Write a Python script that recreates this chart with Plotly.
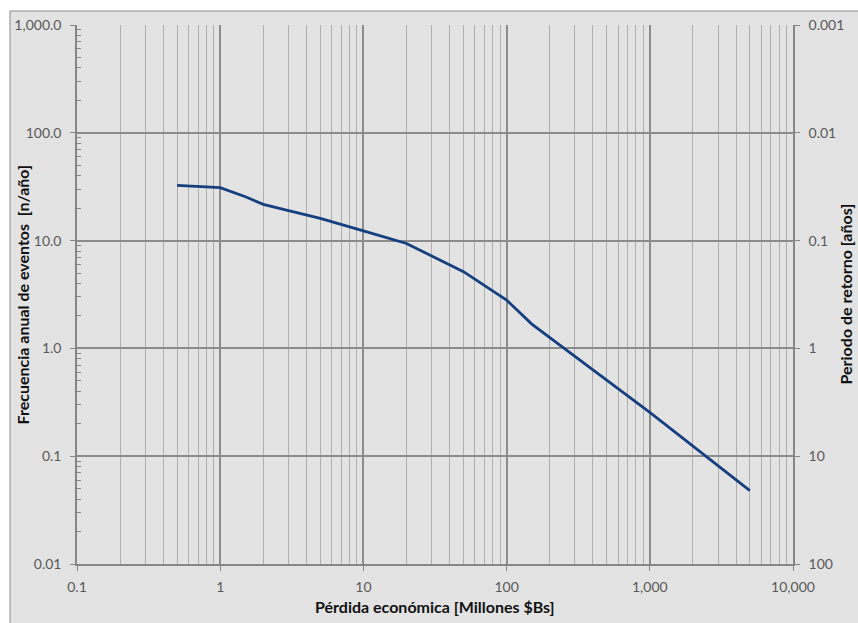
import plotly.graph_objects as go

# Data
loss = [0.5, 1, 1.5, 2, 3, 5, 10, 20, 30, 50, 100, 150, 1000, 5000]
freq = [32.6, 31.0, 25.5, 21.7, 19.0, 16.1, 12.3, 9.4, 7.2, 5.15, 2.81, 1.68, 0.255, 0.048]

x_tick_vals = [0.1, 1, 10, 100, 1000, 10000]
x_tick_text = ["0.1", "1", "10", "100", "1,000", "10,000"]
y_tick_vals = [1000, 100, 10, 1, 0.1, 0.01]
y_tick_text = ["1,000.0", "100.0", "10.0", "1.0", "0.1", "0.01"]
rp_tick_text = ["0.001", "0.01", "0.1", "1", "10", "100"]

x_title = "Pérdida económica [Millones $Bs]"
y_title = "Frecuencia anual de eventos  [n/año]"
y2_title = "Periodo de retorno [años]"

FONT = "Lato, Carlito, 'Open Sans', sans-serif"
TICK_COLOR = "#595959"
AXIS_COLOR = "#868686"
MAJOR_GRID = "#8c8c8c"
MINOR_GRID = "#afafaf"
BG = "#e3e3e3"

minor_x = [m * 10 ** e for e in range(-1, 4) for m in range(2, 10)]
minor_y = [m * 10 ** e for e in range(-2, 3) for m in range(2, 10)]

W, H = 858, 623
PL, PR, PT, PB = 77, 793, 25, 564  # plot area in page pixels
L, T, R, B = PL, PT, W - PR, H - PB
pw = PR - PL
ph = PB - PT

def px_x(p):
    return (p - PL) / pw

def px_y(p):
    return (PB - p) / ph

fig = go.Figure()
fig.add_trace(go.Scatter(
    x=loss, y=freq, mode="lines",
    line=dict(color="#153f7f", width=2.8),
    showlegend=False, hoverinfo="x+y",
))
# companion trace so the right (return period) axis is drawn
fig.add_trace(go.Scatter(
    x=loss, y=freq, mode="lines", yaxis="y2",
    line=dict(color="rgba(0,0,0,0)", width=0),
    showlegend=False, hoverinfo="skip",
))

fig.update_layout(
    width=W, height=H,
    margin=dict(l=L, r=R, t=T, b=B, pad=0),
    paper_bgcolor="white",
    plot_bgcolor="rgba(0,0,0,0)",
    font=dict(family=FONT, size=14, color=TICK_COLOR),
    showlegend=False,
    xaxis=dict(
        type="log", range=[-1, 4], automargin=False,
        tickmode="array", tickvals=x_tick_vals, ticktext=x_tick_text,
        ticks="outside", ticklen=5, tickcolor=AXIS_COLOR, tickwidth=1,
        showline=True, linecolor=AXIS_COLOR, linewidth=1.5,
        showgrid=True, gridcolor=MAJOR_GRID, gridwidth=1.5,
        minor=dict(tickmode="array", tickvals=minor_x, showgrid=True,
                   gridcolor=MINOR_GRID, gridwidth=1, ticks=""),
        ticklabelstandoff=4,
        tickfont=dict(family=FONT, size=14, color=TICK_COLOR),
        zeroline=False,
    ),
    yaxis=dict(
        type="log", range=[-2, 3], automargin=False,
        tickmode="array", tickvals=y_tick_vals, ticktext=y_tick_text,
        ticks="outside", ticklen=5, tickcolor=AXIS_COLOR, tickwidth=1,
        showline=True, linecolor=AXIS_COLOR, linewidth=1.5,
        showgrid=True, gridcolor=MAJOR_GRID, gridwidth=1.5,
        minor=dict(tickmode="array", tickvals=minor_y, showgrid=False,
                   ticks="inside", ticklen=4, tickcolor=AXIS_COLOR, tickwidth=1),
        ticklabelstandoff=6,
        tickfont=dict(family=FONT, size=14, color=TICK_COLOR),
        zeroline=False,
    ),
    yaxis2=dict(
        type="log", range=[-2, 3], overlaying="y", side="right", anchor="x",
        automargin=False,
        tickmode="array", tickvals=y_tick_vals, ticktext=rp_tick_text,
        ticks="outside", ticklen=5, tickcolor=AXIS_COLOR, tickwidth=1,
        showline=True, linecolor=AXIS_COLOR, linewidth=1.5,
        showgrid=False, zeroline=False,
        ticklabelstandoff=6,
        tickfont=dict(family=FONT, size=14, color=TICK_COLOR),
    ),
    shapes=[dict(
        type="rect", xref="paper", yref="paper", layer="below",
        x0=px_x(10), x1=px_x(W + 20), y0=px_y(H + 20), y1=px_y(11),
        fillcolor=BG, line=dict(color="#8a8a8a", width=1),
    )],
    annotations=[
        dict(text=x_title, xref="paper", yref="paper", x=0.5, y=px_y(606),
             showarrow=False, xanchor="center", yanchor="middle",
             font=dict(family=FONT, size=16, color="#111111", weight="bold")),
        dict(text=y_title, xref="paper", yref="paper", x=px_x(22), y=0.5,
             showarrow=False, textangle=-90, xanchor="center", yanchor="middle",
             font=dict(family=FONT, size=16, color="#111111", weight="bold")),
        dict(text=y2_title, xref="paper", yref="paper", x=px_x(845), y=0.5,
             showarrow=False, textangle=-90, xanchor="center", yanchor="middle",
             font=dict(family=FONT, size=16, color="#111111", weight="bold")),
    ],
)

# remove the default 8px page margin so the figure fills the window exactly
fig.write_html(
    "out.html",
    config={"displayModeBar": False},
    post_script="document.body.style.margin='0';document.body.style.overflow='hidden';",
)
